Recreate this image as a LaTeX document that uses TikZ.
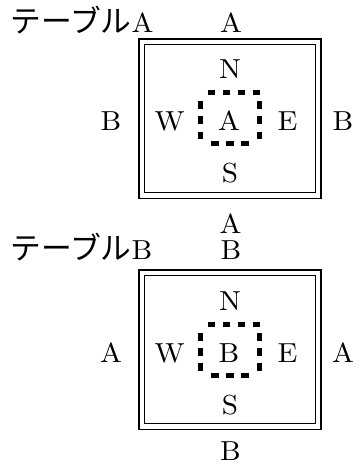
\documentclass[tikz,border=0pt]{standalone}
\usepackage{fontspec}
\setmainfont{Latin Modern Roman}[FakeStretch=1.06]
\newfontfamily\jpfont{Noto Sans CJK JP}
\tikzset{
  lbl/.style={inner sep=0pt, anchor=base, font=\fontsize{11}{13}\selectfont},
  ttl/.style={inner sep=0pt, anchor=base west, font=\fontsize{11}{13}\selectfont},
  tablebox/.style={draw, line width=0.45pt, double, double distance=1.75pt},
  dashside/.style={line width=2pt, dash pattern=on 3pt off 3pt},
}
\begin{document}
\begin{tikzpicture}[x=0.4pt, y=-0.4pt]
\useasboundingbox (0,0) rectangle (359,466);
% ---------- panel 1 ----------
\node[ttl] (t1) at (10,32.3) {{\jpfont\fontsize{12.3}{13}\selectfont テーブル}A};
\node[lbl] (a1top) at (231,32.3) {A};
\draw[tablebox] (141.75,41.75) rectangle (318.25,195.5);
\node[lbl] (n1) at (230,78.3) {N};
\node[lbl] (w1) at (169.5,130.5) {W};
\node[lbl] (c1) at (229,130.5) {A};
\node[lbl] (e1) at (287.5,130.5) {E};
\node[lbl] (l1) at (111,130) {B};
\node[lbl] (r1) at (343,130) {B};
\node[lbl] (s1) at (230,182.8) {S};
\node[lbl] (a1bot) at (230.5,233) {A};
\coordinate (q1t0) at (207.5,92.5);
\coordinate (q1t1) at (259.5,92.5);
\coordinate (q1l0) at (200,101.5);
\coordinate (q1l1) at (200,143.5);
\coordinate (q1r0) at (259.5,101.5);
\coordinate (q1r1) at (259.5,143.5);
\coordinate (q1b0) at (211,143.5);
\coordinate (q1b1) at (255,143.5);
\draw[dashside] (q1t0) -- (q1t1);
\draw[dashside] (q1l0) -- (q1l1);
\draw[dashside] (q1r0) -- (q1r1);
\draw[dashside] (q1b0) -- (q1b1);
% ---------- panel 2 ----------
\node[ttl] (t2) at (10,259) {{\jpfont\fontsize{12.3}{13}\selectfont テーブル}B};
\node[lbl] (b2top) at (231,259) {B};
\draw[tablebox] (141.75,272.75) rectangle (318.25,426.5);
\node[lbl] (n2) at (230,310.5) {N};
\node[lbl] (w2) at (169.5,362.5) {W};
\node[lbl] (c2) at (229,362.5) {B};
\node[lbl] (e2) at (287.5,362.5) {E};
\node[lbl] (l2) at (111,362) {A};
\node[lbl] (r2) at (343,362) {A};
\node[lbl] (s2) at (230,414.5) {S};
\node[lbl] (b2bot) at (230.5,460) {B};
\coordinate (q2t0) at (207.5,324);
\coordinate (q2t1) at (259.5,324);
\coordinate (q2l0) at (200,333);
\coordinate (q2l1) at (200,375);
\coordinate (q2r0) at (259.5,333);
\coordinate (q2r1) at (259.5,375);
\coordinate (q2b0) at (211,375);
\coordinate (q2b1) at (255,375);
\draw[dashside] (q2t0) -- (q2t1);
\draw[dashside] (q2l0) -- (q2l1);
\draw[dashside] (q2r0) -- (q2r1);
\draw[dashside] (q2b0) -- (q2b1);
\end{tikzpicture}
\end{document}
